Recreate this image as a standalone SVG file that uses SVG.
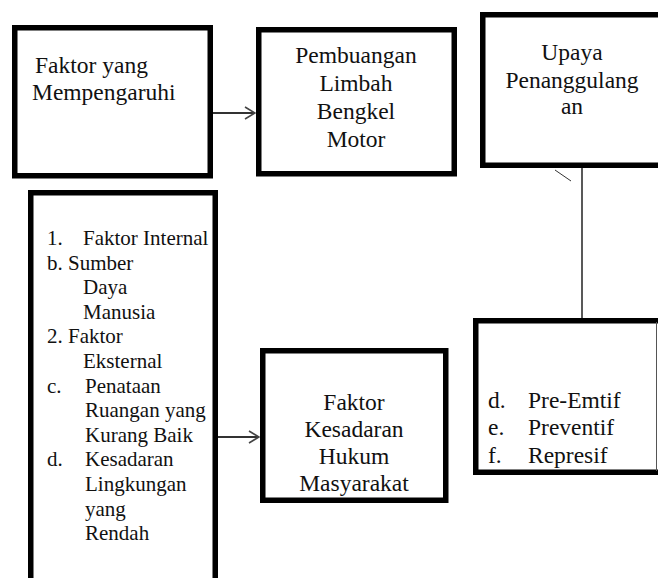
<svg xmlns="http://www.w3.org/2000/svg" width="658" height="578" viewBox="0 0 658 578" font-family="Liberation Serif">
<style>
.box{fill:#fff;stroke:#000;stroke-width:5.5}
text{fill:#111}
.t{font-size:23.5px}
.c{text-anchor:middle}
.s{font-size:21px}
.conn{stroke:#333;stroke-width:2;fill:none}
.thin{stroke:#222;stroke-width:1.5;fill:none}
</style>
<defs>
<marker id="arr" viewBox="0 0 12 14" refX="11" refY="7" markerWidth="12" markerHeight="14" markerUnits="userSpaceOnUse" orient="auto">
<path d="M1,1 L11,7 L1,13" fill="none" stroke="#444" stroke-width="1.6"/>
</marker>
</defs>
<rect width="658" height="578" fill="#fff"/>
<g id="connectors">
<line class="conn" x1="213" y1="113" x2="255" y2="113" marker-end="url(#arr)"/>
<line class="conn" x1="218" y1="437" x2="259" y2="437" marker-end="url(#arr)"/>
<line class="thin" x1="582" y1="168" x2="582" y2="321"/>
<line x1="555" y1="170" x2="571" y2="181" stroke="#333" stroke-width="1"/>
</g>
<g id="node-faktor">
<rect class="box" x="14.75" y="27.75" width="195.5" height="148"/>
<text class="t" x="35" y="73">Faktor yang</text>
<text class="t" x="32" y="100">Mempengaruhi</text>
</g>
<g id="node-pembuangan">
<rect class="box" x="258.75" y="29.75" width="195.5" height="144"/>
<text class="t c" x="356" y="63">Pembuangan</text>
<text class="t c" x="356" y="91">Limbah</text>
<text class="t c" x="356" y="119">Bengkel</text>
<text class="t c" x="356" y="147">Motor</text>
</g>
<g id="node-upaya">
<path d="M662,14.75 H482.75 V165.25 H662" fill="#fff" stroke="#000" stroke-width="5.5"/>
<text class="t c" x="572" y="60">Upaya</text>
<text class="t c" x="572" y="88">Penanggulang</text>
<text class="t c" x="572" y="114">an</text>
</g>
<g id="node-list">
<path d="M30.75,582 V192.75 H215.25 V582" fill="#fff" stroke="#000" stroke-width="5.5"/>
<text class="s" x="47" y="245">1.</text><text class="s" x="83" y="245">Faktor Internal</text>
<text class="s" x="47" y="269.6">b. Sumber</text>
<text class="s" x="83" y="294.2">Daya</text>
<text class="s" x="83" y="318.8">Manusia</text>
<text class="s" x="47" y="343.4">2. Faktor</text>
<text class="s" x="83" y="368">Eksternal</text>
<text class="s" x="47" y="392.6">c.</text><text class="s" x="85" y="392.6">Penataan</text>
<text class="s" x="85" y="417.2">Ruangan yang</text>
<text class="s" x="85" y="441.8">Kurang Baik</text>
<text class="s" x="47" y="466.4">d.</text><text class="s" x="85" y="466.4">Kesadaran</text>
<text class="s" x="85" y="491">Lingkungan</text>
<text class="s" x="85" y="515.6">yang</text>
<text class="s" x="85" y="540.2">Rendah</text>
</g>
<g id="node-kesadaran">
<rect class="box" x="262.75" y="350.75" width="183" height="149.5"/>
<text class="t c" x="354" y="410">Faktor</text>
<text class="t c" x="354" y="437">Kesadaran</text>
<text class="t c" x="354" y="464">Hukum</text>
<text class="t c" x="354" y="491">Masyarakat</text>
</g>
<g id="node-upaya-list">
<path d="M662,320.75 H475.75 V472.25 H662" fill="#fff" stroke="#000" stroke-width="5.5"/>
<line x1="656.5" y1="322" x2="656.5" y2="471" stroke="#555" stroke-width="1"/>
<text class="t" x="488" y="408">d.</text><text class="t" x="528" y="408">Pre-Emtif</text>
<text class="t" x="488" y="435">e.</text><text class="t" x="528" y="435">Preventif</text>
<text class="t" x="488" y="463">f.</text><text class="t" x="528" y="463">Represif</text>
</g>
</svg>
